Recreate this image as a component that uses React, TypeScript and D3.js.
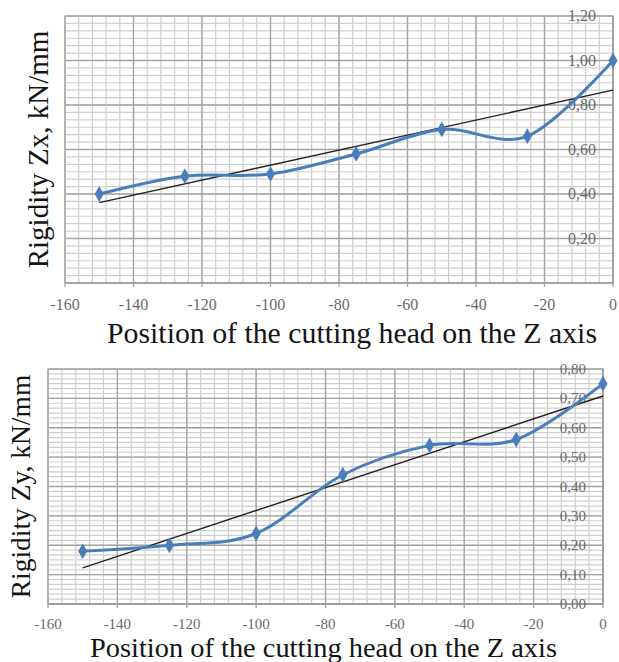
import React from "react";
import * as d3 from "d3";

const positions = [-150, -125, -100, -75, -50, -25, 0];
const rigidityZx = [0.4, 0.48, 0.49, 0.58, 0.69, 0.66, 1.0];
const rigidityZy = [0.18, 0.2, 0.24, 0.44, 0.54, 0.56, 0.75];
const xTicks = [-160, -140, -120, -100, -80, -60, -40, -20, 0];
const yTicksZx = [0.2, 0.4, 0.6, 0.8, 1.0, 1.2];
const yTicksZy = [0, 0.1, 0.2, 0.3, 0.4, 0.5, 0.6, 0.7, 0.8];
const xTitle = "Position of the cutting head on the Z axis";
const yTitleZx = "Rigidity Zx, kN/mm";
const yTitleZy = "Rigidity Zy, kN/mm";

const BLUE = "#4a7ebb";
const fmt = (v: number) => d3.format(".2f")(v).replace(".", ",");

type ChartProps = {
  values: number[];
  yTicks: number[];
  yMax: number;
  yMajor: number;
  left: number;
  right: number;
  top: number;
  bottom: number;
  yTitle: string;
  yTitleX: number;
  yTitleSize: number;
  xTitleX: number;
  xTitleY: number;
  xTitleSize: number;
  xTitleLen: number;
  xLabelY: number;
  labelSize: number;
};

function Chart(p: ChartProps) {
  const x = d3.scaleLinear().domain([-160, 0]).range([p.left, p.right]);
  const y = d3.scaleLinear().domain([0, p.yMax]).range([p.bottom, p.top]);
  const minorX = d3.range(-160, 0.001, 4);
  const minorStep = p.yMajor / 6;
  const minorY = d3.range(0, Math.round(p.yMax / minorStep) + 1).map((i) => i * minorStep);
  const pts: [number, number][] = positions.map((d, i) => [d, p.values[i]]);
  const line = d3
    .line<[number, number]>()
    .x((d) => x(d[0]))
    .y((d) => y(d[1]))
    .curve(d3.curveCatmullRom.alpha(0));
  const mx = d3.mean(positions) as number;
  const my = d3.mean(p.values) as number;
  const slope =
    d3.sum(positions.map((d, i) => (d - mx) * (p.values[i] - my))) /
    d3.sum(positions.map((d) => (d - mx) * (d - mx)));
  const trend = (v: number) => my + slope * (v - mx);
  const x0 = positions[0];
  const x1 = positions[positions.length - 1];
  const diamond = d3.symbol().type(d3.symbolDiamond).size(72)() as string;
  const yTitleCenter = (p.top + p.bottom) / 2;
  return (
    <g>
      {minorY.map((v, i) => (
        <line key={"my" + i} x1={p.left} x2={p.right} y1={y(v)} y2={y(v)} stroke="#cfcfcf" strokeWidth={1.2} />
      ))}
      {minorX.map((v, i) => (
        <line key={"mx" + i} x1={x(v)} x2={x(v)} y1={p.top} y2={p.bottom} stroke="#cfcfcf" strokeWidth={1.2} />
      ))}
      {p.yTicks.map((v, i) => (
        <line key={"gy" + i} x1={p.left} x2={p.right} y1={y(v)} y2={y(v)} stroke="#a3a3a3" strokeWidth={1.3} />
      ))}
      {xTicks.map((v, i) => (
        <line key={"gx" + i} x1={x(v)} x2={x(v)} y1={p.top} y2={p.bottom + 4} stroke="#a3a3a3" strokeWidth={1.3} />
      ))}
      <rect x={p.left} y={p.top} width={p.right - p.left} height={p.bottom - p.top} fill="none" stroke="#b0b0b0" strokeWidth={1.3} />
      <line x1={p.left} x2={p.right} y1={p.bottom} y2={p.bottom} stroke="#9a9a9a" strokeWidth={1.3} />
      <line x1={p.right} x2={p.right} y1={p.top} y2={p.bottom} stroke="#9a9a9a" strokeWidth={1.3} />
      {xTicks.map((v, i) => (
        <text key={"xt" + i} x={x(v)} y={p.xLabelY} textAnchor="middle" fontFamily="Liberation Serif" fontSize={p.labelSize} fill="#6a6a6a">
          {v}
        </text>
      ))}
      {p.yTicks.map((v, i) => (
        <text key={"yt" + i} x={p.right - 17} y={y(v) + 5} textAnchor="end" fontFamily="Liberation Serif" fontSize={p.labelSize} fill="#6a6a6a">
          {fmt(v)}
        </text>
      ))}
      <line x1={x(x0)} x2={x(x1)} y1={y(trend(x0))} y2={y(trend(x1))} stroke="#222" strokeWidth={1.4} />
      <path d={line(pts) as string} fill="none" stroke={BLUE} strokeWidth={3} />
      {pts.map((d, i) => (
        <path key={"pt" + i} d={diamond} transform={`translate(${x(d[0])},${y(d[1])})`} fill={BLUE} />
      ))}
      <text
        transform={`translate(${p.yTitleX},${yTitleCenter}) rotate(-90)`}
        textAnchor="middle"
        fontFamily="Liberation Serif"
        fontSize={p.yTitleSize}
        fill="#141414"
      >
        {p.yTitle}
      </text>
      <text
        x={p.xTitleX}
        y={p.xTitleY}
        fontFamily="Liberation Serif"
        fontSize={p.xTitleSize}
        textLength={p.xTitleLen}
        lengthAdjust="spacingAndGlyphs"
        fill="#141414"
      >
        {xTitle}
      </text>
    </g>
  );
}

export default function App() {
  return (
    <svg width={619} height={662} style={{ position: "absolute", left: 0, top: 0, background: "#fff" }}>
      <rect width={619} height={662} fill="#fff" />
      <Chart
        values={rigidityZx}
        yTicks={yTicksZx}
        yMax={1.2}
        yMajor={0.2}
        left={65}
        right={613}
        top={16}
        bottom={283}
        yTitle={yTitleZx}
        yTitleX={48}
        yTitleSize={29}
        xTitleX={107}
        xTitleY={343}
        xTitleSize={29.8}
        xTitleLen={490}
        xLabelY={310}
        labelSize={16}
      />
      <Chart
        values={rigidityZy}
        yTicks={yTicksZy}
        yMax={0.8}
        yMajor={0.1}
        left={48}
        right={603}
        top={369}
        bottom={604}
        yTitle={yTitleZy}
        yTitleX={30}
        yTitleSize={27.5}
        xTitleX={90}
        xTitleY={656.5}
        xTitleSize={27}
        xTitleLen={467}
        xLabelY={628.5}
        labelSize={15}
      />
    </svg>
  );
}
